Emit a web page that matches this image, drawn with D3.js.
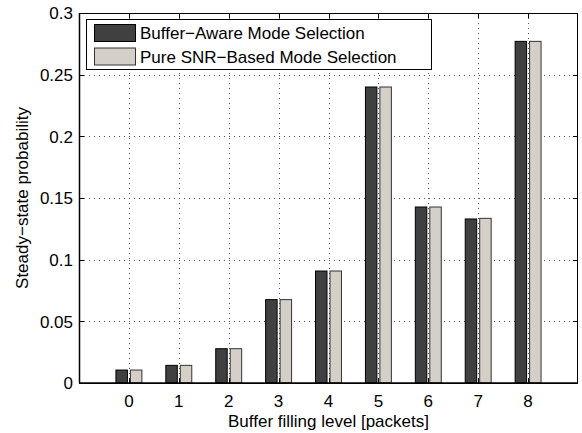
<!DOCTYPE html>
<html><head><meta charset="utf-8">
<script src="https://cdn.jsdelivr.net/npm/d3@7"></script>
<style>body{margin:0;background:#fff}svg{display:block}text{font-family:"Liberation Sans",Arial,Helvetica,sans-serif;fill:#000}</style>
</head><body><svg id="c" width="582" height="433"></svg>
<script>
const categories = [0,1,2,3,4,5,6,7,8];
const bufferAware = [0.0105,0.0143,0.0278,0.0676,0.0908,0.240,0.1427,0.1330,0.277];
const pureSNR = [0.0105,0.0143,0.0278,0.0676,0.0908,0.240,0.1427,0.1335,0.277];
const yTicks = [0,0.05,0.1,0.15,0.2,0.25,0.3];
const yTickLabels = ["0","0.05","0.1","0.15","0.2","0.25","0.3"];
const seriesNames = ["Buffer\u2212Aware Mode Selection","Pure SNR\u2212Based Mode Selection"];
const colors = ["#404040","#d4d0c8"];
const strokes = ["#000","#333"];

const svg = d3.select("#c");
const L=79, R=578, T=13, B=383;
const x = d3.scaleLinear().domain([-1,9]).range([L,R]);
const y = d3.scaleLinear().domain([0,0.3]).range([B,T]);

// grid
const g = svg.append("g");
g.selectAll(".gx").data(categories).enter().append("line")
  .attr("x1",d=>Math.round(x(d))+0.5).attr("x2",d=>Math.round(x(d))+0.5).attr("y1",T).attr("y2",B)
  .attr("stroke","#555").attr("stroke-width",1).attr("stroke-dasharray","1,4");
g.selectAll(".gy").data(yTicks.slice(1,-1)).enter().append("line")
  .attr("y1",d=>Math.round(y(d))+0.5).attr("y2",d=>Math.round(y(d))+0.5).attr("x1",L).attr("x2",R)
  .attr("stroke","#555").attr("stroke-width",1).attr("stroke-dasharray","1,4");

// bars
const bw = 0.23, off = 0.145;
[bufferAware,pureSNR].forEach((vals,si)=>{
  svg.append("g").selectAll("rect").data(categories).enter().append("rect")
    .attr("x",d=>x(d + (si===0?-off:off) - bw/2))
    .attr("width",x(bw)-x(0))
    .attr("y",(d,i)=>y(vals[i]))
    .attr("height",(d,i)=>B-y(vals[i]))
    .attr("fill",colors[si]).attr("stroke",strokes[si]).attr("stroke-width",1);
});

// box and ticks
svg.append("rect").attr("x",L+0.5).attr("y",T+0.5).attr("width",R-L-1).attr("height",B-T)
  .attr("fill","none").attr("stroke","#000").attr("stroke-width",1);
svg.append("line").attr("x1",L).attr("x2",R).attr("y1",B).attr("y2",B).attr("stroke","#000").attr("stroke-width",1.5);
svg.append("line").attr("x1",L+0.5).attr("x2",L+0.5).attr("y1",T).attr("y2",B).attr("stroke","#000").attr("stroke-width",1.5);

const tl=5, fs=17;
const ax = svg.append("g");
categories.forEach(d=>{
  const xx=Math.round(x(d))+0.5;
  ax.append("line").attr("x1",xx).attr("x2",xx).attr("y1",B).attr("y2",B-tl).attr("stroke","#000");
  ax.append("line").attr("x1",xx).attr("x2",xx).attr("y1",T).attr("y2",T+tl).attr("stroke","#000");
  ax.append("text").attr("x",x(d)).attr("y",B+23.5).attr("text-anchor","middle").attr("font-size",fs).text(d);
});
yTicks.forEach((d,i)=>{
  const yy=Math.round(y(d))+0.5;
  ax.append("line").attr("x1",L).attr("x2",L+tl).attr("y1",yy).attr("y2",yy).attr("stroke","#000");
  ax.append("line").attr("x1",R).attr("x2",R-tl).attr("y1",yy).attr("y2",yy).attr("stroke","#000");
  ax.append("text").attr("x",L-6).attr("y",y(d)+6.3).attr("text-anchor","end").attr("font-size",fs).text(yTickLabels[i]);
});

svg.append("text").attr("x",(L+R)/2).attr("y",427).attr("text-anchor","middle").attr("font-size",fs)
  .text("Buffer filling level [packets]");
svg.append("text").attr("transform",`translate(28,${(T+B)/2}) rotate(-90)`).attr("text-anchor","middle").attr("font-size",fs)
  .text("Steady\u2212state probability");

// legend
const lg = svg.append("g");
lg.append("rect").attr("x",86.5).attr("y",19.5).attr("width",345).attr("height",50)
  .attr("fill","#fff").attr("stroke","#000").attr("stroke-width",1);
seriesNames.forEach((n,i)=>{
  const yy = 24 + i*23.5;
  lg.append("rect").attr("x",94.5).attr("y",yy+0.5).attr("width",41).attr("height",17)
    .attr("fill",colors[i]).attr("stroke",strokes[i]);
  lg.append("text").attr("x",140).attr("y",yy+15).attr("font-size",fs).text(n);
});
</script></body></html>
